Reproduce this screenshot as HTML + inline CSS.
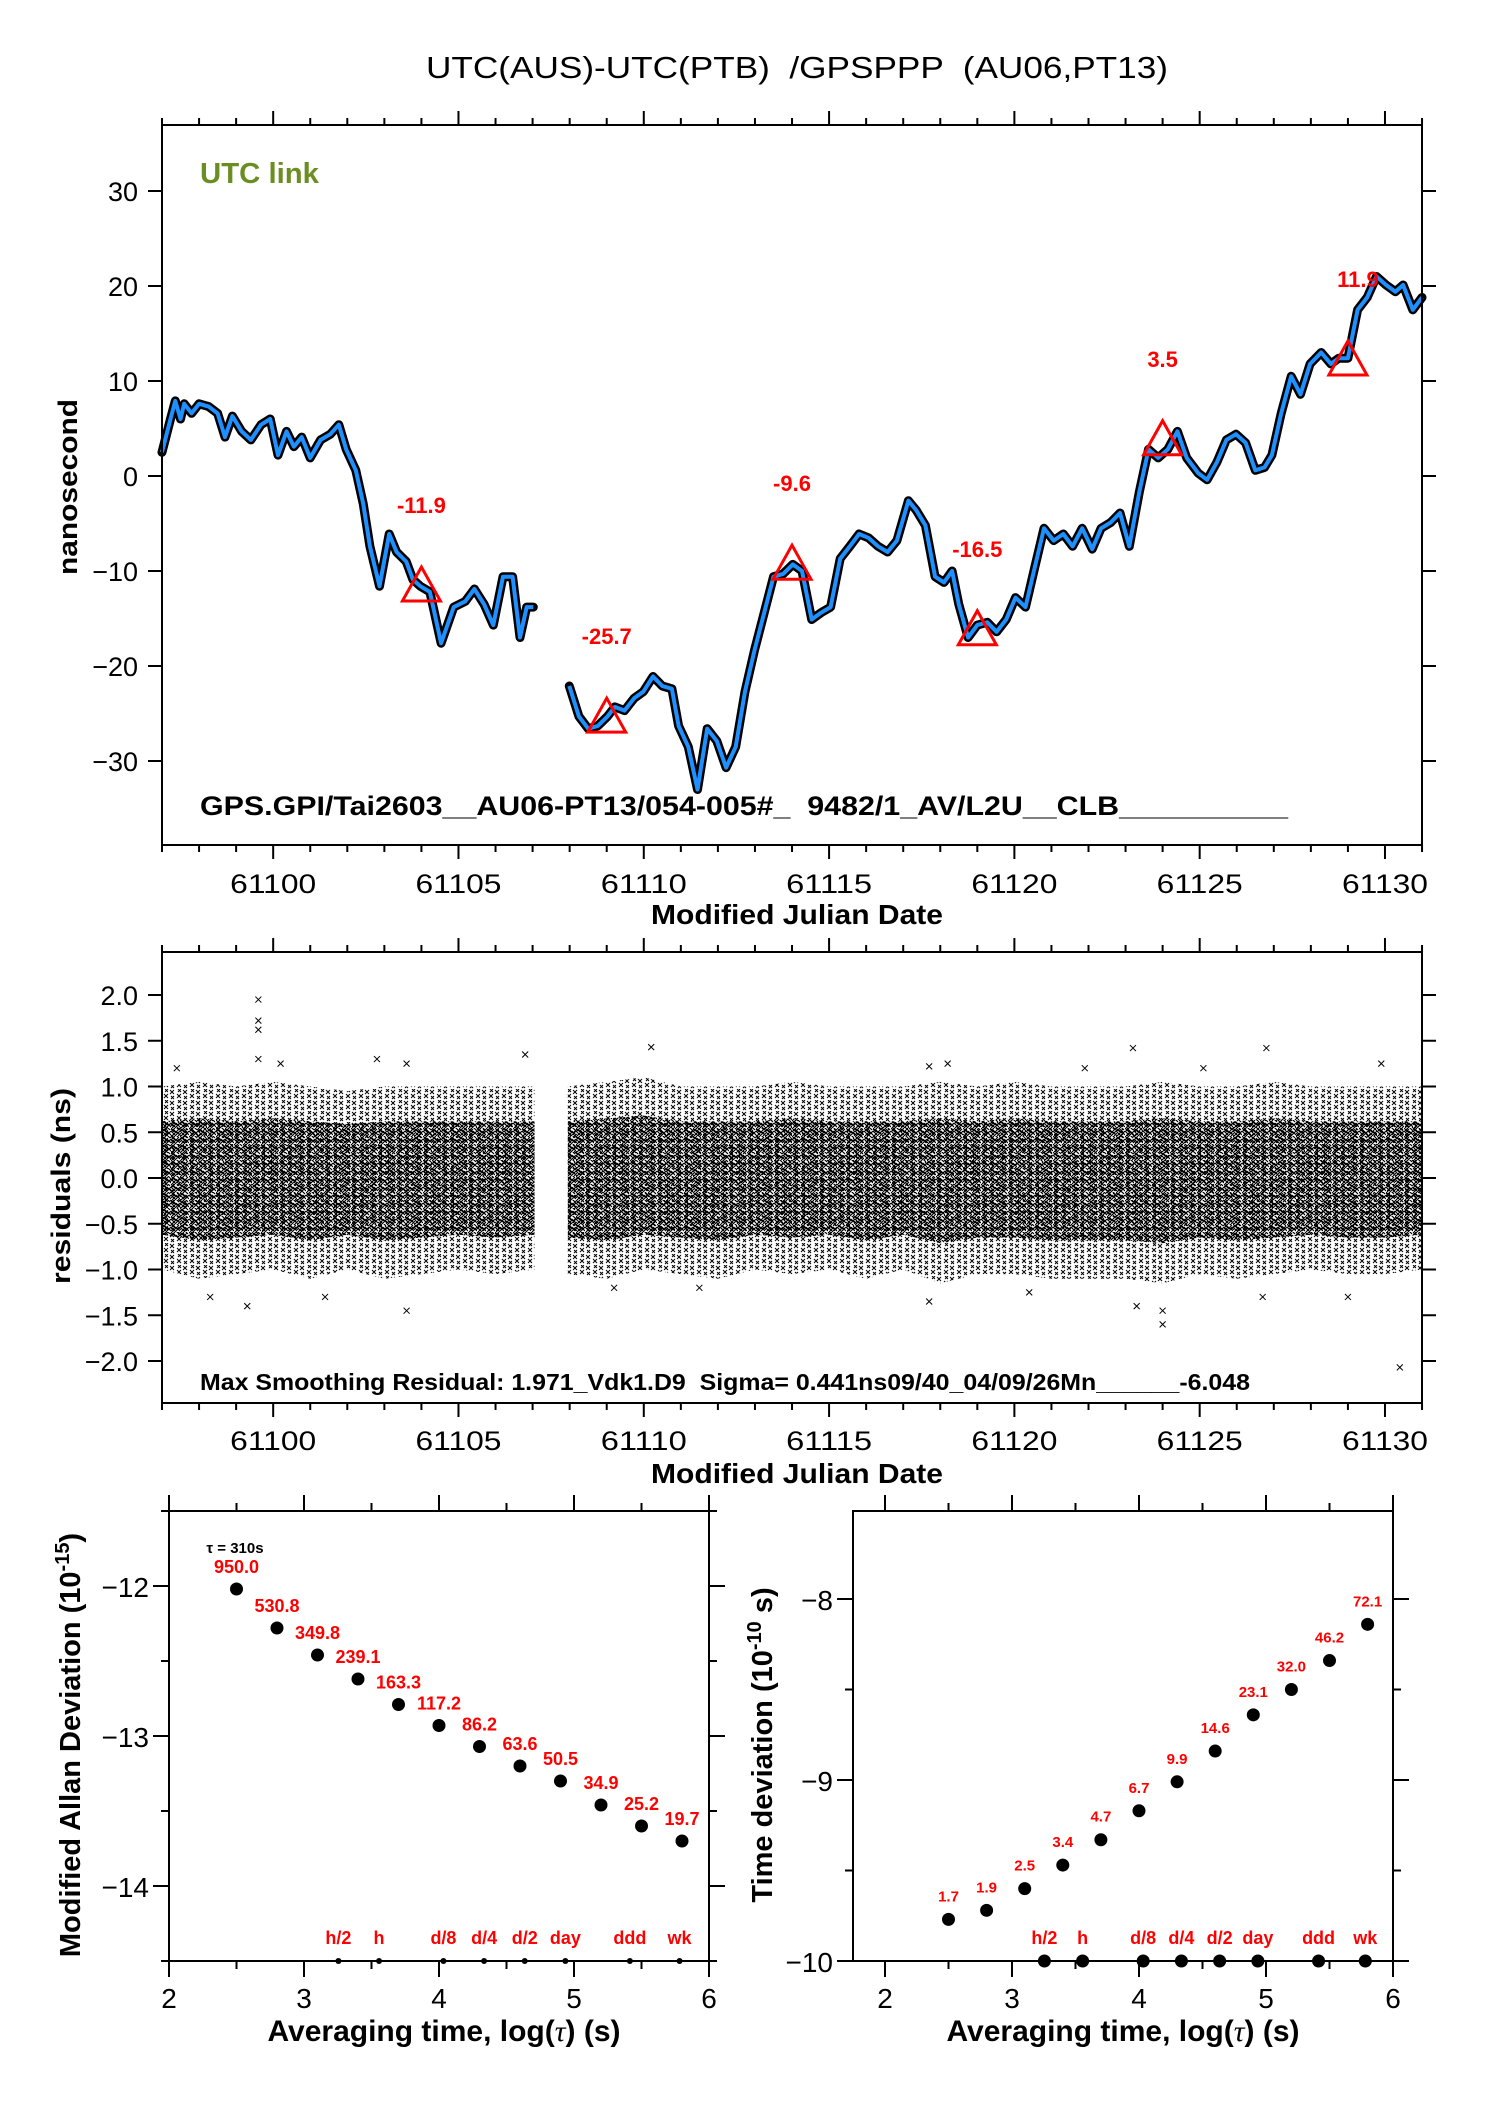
<!DOCTYPE html>
<html><head><meta charset="utf-8"><style>
body{margin:0;background:#fff;}
svg{display:block;font-family:"Liberation Sans",sans-serif;}
text{white-space:pre;}
</style></head><body>
<svg id="chart" width="1488" height="2105" viewBox="0 0 1488 2105" xmlns="http://www.w3.org/2000/svg">
<defs>
<pattern id="xdense" width="9" height="8" patternUnits="userSpaceOnUse">
<path d="M0 0l4 4M4 0l-4 4M5 3l4 4M9 3l-4 4M1 4l4 4M5 4l-4 4M5 -1l3 3M3 2l3 3" stroke="#000" stroke-width="1.2" fill="none"/>
</pattern>
<pattern id="xsparse" width="13" height="11" patternUnits="userSpaceOnUse">
<path d="M1 1l4 4M5 1l-4 4M8 5l4 4M12 5l-4 4M2 7l3 3M5 7l-3 3M9 0l3 3M12 0l-3 3" stroke="#000" stroke-width="1" fill="none"/>
</pattern>
</defs>
<g id="g"></g>
</svg>
<script>
// ===== top plot data: smoothed link curve =====
const curveDays = [61097.0,61097.23,61097.36,61097.5,61097.6,61097.8,61098.0,61098.26,61098.5,61098.7,61098.9,61099.15,61099.4,61099.67,61099.92,61100.13,61100.36,61100.56,61100.77,61101.0,61101.28,61101.54,61101.77,61101.97,61102.23,61102.43,61102.61,61102.87,61103.13,61103.33,61103.59,61103.77,61103.97,61104.23,61104.53,61104.87,61105.18,61105.43,61105.69,61105.94,61106.2,61106.46,61106.66,61106.84,61107.02];
const curveVals = [2.5,6,7.9,6,7.6,6.6,7.6,7.3,6.6,4.1,6.3,4.7,3.8,5.4,6,2.2,4.7,3.1,4.1,1.9,3.8,4.4,5.4,2.8,0.6,-2.9,-7.4,-11.6,-6.1,-8,-9,-10.9,-11.6,-12.2,-17.6,-13.8,-13.2,-11.9,-13.5,-15.7,-10.6,-10.6,-17,-13.8,-13.8];
const curveDays2 = [61107.99,61108.25,61108.5,61108.76,61109.02,61109.22,61109.48,61109.74,61109.99,61110.25,61110.5,61110.76,61110.94,61111.2,61111.45,61111.71,61111.97,61112.22,61112.48,61112.73,61112.99,61113.25,61113.5,61113.76,61114.02,61114.27,61114.53,61114.78,61115.04,61115.3,61115.56,61115.81,61116.06,61116.32,61116.58,61116.83,61117.14,61117.35,61117.6,61117.86,61118.1,61118.32,61118.5,61118.75,61119.0,61119.27,61119.52,61119.78,61120.03,61120.3,61120.55,61120.8,61121.06,61121.32,61121.57,61121.83,61122.1,61122.34,61122.6,61122.85,61123.1,61123.37,61123.62,61123.88,61124.14,61124.4,61124.65,61124.96,61125.2,61125.47,61125.72,61125.98,61126.24,61126.5,61126.75,61126.95,61127.2,61127.47,61127.72,61127.98,61128.28,61128.54,61128.75,61129.0,61129.26,61129.52,61129.77,61130.03,61130.28,61130.49,61130.75,61131.0];
const curveVals2 = [-22.1,-25.3,-26.6,-26.3,-25.3,-24.3,-24.7,-23.4,-22.7,-21.1,-22.1,-22.4,-26.3,-28.5,-33,-26.6,-27.9,-30.7,-28.5,-22.7,-18.3,-14.4,-10.6,-10.3,-9.3,-10,-15.1,-14.4,-13.8,-8.7,-7.4,-6.1,-6.5,-7.4,-8,-6.8,-2.6,-3.6,-5.2,-10.6,-11.2,-10,-13.5,-17,-15.7,-15.4,-16.4,-15.1,-12.8,-13.8,-9.6,-5.5,-6.8,-6.1,-7.4,-5.5,-7.7,-5.5,-4.9,-3.9,-7.4,-1.7,2.8,1.9,2.8,4.7,1.9,0.3,-0.4,1.5,3.8,4.4,3.5,0.6,0.9,2.2,6.6,10.5,8.6,11.8,13,11.8,12.4,12.4,17.5,18.8,21,20.1,19.4,20.1,17.5,18.8];
const markerDays = [61104,61109,61114,61119,61124,61129];
const markerVals = [-11.9,-25.7,-9.6,-16.5,3.5,11.9];
const markerLabels = ["-11.9","-25.7","-9.6","-16.5","3.5","11.9"];
const topYTicks = [30,20,10,0,-10,-20,-30];
const xTickLabels = [61100,61105,61110,61115,61120,61125,61130];

// ===== residual plot data (cloud envelope + outliers) =====
const residDays1 = [61097,61098,61099,61100,61101,61102,61103,61104,61105,61106,61107.05];
const residUpper1 = [1.0,1.05,1.0,1.05,1.0,0.95,1.0,1.0,1.0,1.0,1.0];
const residLower1 = [-1.0,-1.1,-1.05,-1.0,-1.1,-1.0,-1.1,-1.05,-1.0,-1.05,-1.0];
const residDays2 = [61107.95,61109,61110,61111,61112,61113,61114,61115,61116,61117,61118,61119,61120,61121,61122,61123,61124,61125,61126,61127,61128,61129,61130,61131];
const residUpper2 = [1.0,1.05,1.1,1.0,1.0,1.0,1.05,1.0,1.0,1.0,1.05,1.0,1.05,1.0,1.0,1.0,1.05,1.0,1.0,1.05,1.0,1.0,1.0,1.0];
const residLower2 = [-1.05,-1.1,-1.0,-1.05,-1.1,-1.0,-1.05,-1.0,-1.1,-1.0,-1.15,-1.05,-1.05,-1.1,-1.1,-1.1,-1.15,-1.05,-1.1,-1.05,-1.0,-1.05,-1.05,-1.0];
const outDays = [61099.6,61099.6,61099.6,61099.6,61097.4,61100.2,61102.8,61103.6,61106.8,61110.2,61117.7,61118.2,61121.9,61123.2,61125.1,61126.8,61129.9,61098.3,61099.3,61101.4,61103.6,61109.2,61111.5,61117.7,61120.4,61123.3,61124.0,61124.0,61126.7,61130.4,61129.0];
const outVals = [1.95,1.72,1.62,1.3,1.2,1.25,1.3,1.25,1.35,1.43,1.22,1.25,1.2,1.42,1.2,1.42,1.25,-1.3,-1.4,-1.3,-1.45,-1.2,-1.2,-1.35,-1.25,-1.4,-1.6,-1.45,-1.3,-2.07,-1.3];
const midYTicks = [2.0,1.5,1.0,0.5,0.0,-0.5,-1.0,-1.5,-2.0];

// ===== stability data =====
const logTau = [2.5,2.8,3.1,3.4,3.7,4.0,4.3,4.6,4.9,5.2,5.5,5.8];
const madev = [-12.02,-12.28,-12.46,-12.62,-12.79,-12.93,-13.07,-13.20,-13.30,-13.46,-13.60,-13.70];
const madevLabels = ["950.0","530.8","349.8","239.1","163.3","117.2","86.2","63.6","50.5","34.9","25.2","19.7"];
const tdev = [-9.77,-9.72,-9.60,-9.47,-9.33,-9.17,-9.01,-8.84,-8.64,-8.50,-8.34,-8.14];
const tdevLabels = ["1.7","1.9","2.5","3.4","4.7","6.7","9.9","14.6","23.1","32.0","46.2","72.1"];
const refTau = [3.255,3.556,4.033,4.334,4.635,4.936,5.414,5.782];
const refLabels = ["h/2","h","d/8","d/4","d/2","day","ddd","wk"];
const adevYTicks = [-12,-13,-14];
const tdevYTicks = [-8,-9,-10];
const logXTicks = [2,3,4,5,6];

const NS="http://www.w3.org/2000/svg";
const G=document.getElementById('g');
function el(tag,attrs,parent){const e=document.createElementNS(NS,tag);for(const k in attrs)e.setAttribute(k,attrs[k]);(parent||G).appendChild(e);return e;}
function txt(s,attrs,parent){const e=el('text',attrs,parent);e.textContent=s;return e;}

const dayX = d => 162 + (d-61097)*37.06;
const topY = v => 476 - v*9.5;
const midY = v => 1178 - v*91.5;
const adX = l => 169 + (l-2)*135;
const adY = v => 1586 + (-12 - v)*150;
const tdX = l => 885 + (l-2)*127;
const tdY = v => 1961 - (v+10)*181;

let t=txt('UTC(AUS)-UTC(PTB)  /GPSPPP  (AU06,PT13)',{x:797,y:78,'font-size':31,'text-anchor':'middle',textLength:742,lengthAdjust:'spacingAndGlyphs'});



function frame(x0,y0,x1,y1,name){const r=el('rect',{x:x0,y:y0,width:x1-x0,height:y1-y0,fill:'none',stroke:'#000','stroke-width':2});}

// ---------- TOP PLOT ----------
const topG = el('g',{});


function dayTicks(y0,y1,parent,labels,labY){
  for(let d=61097; d<=61131; d++){
    const x=dayX(d), maj=(d%5===0);
    const L=maj?14:7;
    el('line',{x1:x,y1:y0,x2:x,y2:y0-L,stroke:'#000','stroke-width':2},parent);
    el('line',{x1:x,y1:y1,x2:x,y2:y1+L,stroke:'#000','stroke-width':2},parent);
  }
  if(labels){xTickLabels.forEach(v=>{const e=txt(String(v),{x:dayX(v),y:labY,'font-size':27,'text-anchor':'middle',textLength:86,lengthAdjust:'spacingAndGlyphs'},parent);
    
    });}
}
dayTicks(125,845,topG,true,893);
topYTicks.forEach(v=>{const y=topY(v);el('line',{x1:148,y1:y,x2:162,y2:y,stroke:'#000','stroke-width':2},topG);el('line',{x1:1422,y1:y,x2:1436,y2:y,stroke:'#000','stroke-width':2},topG);
 const e=txt(v<0?'\u2212'+(-v):String(v),{x:138,y:y+10,'font-size':27,'text-anchor':'end'},topG);
 
 });
frame(162,125,1422,845,'top-plot-frame');
t=txt('nanosecond',{x:0,y:0,'font-size':27,'font-weight':'bold','text-anchor':'middle',transform:'translate(77,487) rotate(-90)',textLength:176,lengthAdjust:'spacingAndGlyphs'},topG);


t=txt('Modified Julian Date',{x:797,y:924,'font-size':28,'font-weight':'bold','text-anchor':'middle',textLength:292,lengthAdjust:'spacingAndGlyphs'},topG);


t=txt('UTC link',{x:200,y:183,'font-size':29,'font-weight':'bold',fill:'#6b8e23',textLength:119,lengthAdjust:'spacingAndGlyphs'},topG);


t=txt('GPS.GPI/Tai2603__AU06-PT13/054-005#_  9482/1_AV/L2U__CLB__________',{x:200,y:815,'font-size':27,'font-weight':'bold',textLength:1088,lengthAdjust:'spacingAndGlyphs'},topG);


function pts(ds,vs){return ds.map((d,i)=>dayX(d).toFixed(1)+','+topY(vs[i]).toFixed(1)).join(' ');}
[[curveDays,curveVals],[curveDays2,curveVals2]].forEach(([ds,vs])=>{
  const b=el('polyline',{points:pts(ds,vs),fill:'none',stroke:'#000','stroke-width':9,'stroke-linejoin':'round','stroke-linecap':'round'},topG);
  
  
  const l=el('polyline',{points:pts(ds,vs),fill:'none',stroke:'#1e90ff','stroke-width':4,'stroke-linejoin':'round'},topG);
  
  
});
markerDays.forEach((d,i)=>{const x=dayX(d),y=topY(markerVals[i]);
  const p=el('polygon',{points:`${x-19},${y+12} ${x+19},${y+12} ${x},${y-22}`,fill:'none',stroke:'#ff0000','stroke-width':3},topG);
  
  
  const e=txt(markerLabels[i],{x:i===5?x+10:x,y:y-76,'font-size':22,'font-weight':'bold',fill:'#ff0000','text-anchor':'middle'},topG);
  
  
});

// ---------- MIDDLE PLOT ----------
const midG=el('g',{});


dayTicks(952,1403,midG,false);
xTickLabels.forEach(v=>{const e=txt(String(v),{x:dayX(v),y:1450,'font-size':27,'text-anchor':'middle',textLength:86,lengthAdjust:'spacingAndGlyphs'},midG);
 
 });
midYTicks.forEach(v=>{const y=midY(v);el('line',{x1:148,y1:y,x2:162,y2:y,stroke:'#000','stroke-width':2},midG);el('line',{x1:1422,y1:y,x2:1436,y2:y,stroke:'#000','stroke-width':2},midG);
 const e=txt((v<0?'\u2212':'')+Math.abs(v).toFixed(1),{x:138,y:y+10,'font-size':27,'text-anchor':'end'},midG);
 
 });
function band(ds,up,lo,scale,fill,name){
  const a=ds.map((d,i)=>dayX(d).toFixed(1)+','+midY(up[i]*scale).toFixed(1));
  const b=ds.map((d,i)=>dayX(d).toFixed(1)+','+midY(lo[i]*scale).toFixed(1)).reverse();
  const p=el('polygon',{points:a.concat(b).join(' '),fill:fill},midG);
  
  
}
band(residDays1,residUpper1,residLower1,1,'url(#xsparse)','residual-cloud-outer');
band(residDays2,residUpper2,residLower2,1,'url(#xsparse)','residual-cloud-outer');
band(residDays1,residUpper1,residLower1,0.62,'url(#xdense)','residual-cloud-core');
band(residDays2,residUpper2,residLower2,0.62,'url(#xdense)','residual-cloud-core');
outDays.forEach((d,i)=>{const x=dayX(d),y=midY(outVals[i]);
 const p=el('path',{d:`M${x-3} ${y-3}L${x+3} ${y+3}M${x+3} ${y-3}L${x-3} ${y+3}`,stroke:'#000','stroke-width':1},midG);
 
 });
frame(162,952,1422,1403,'residual-plot-frame');
t=txt('residuals (ns)',{x:0,y:0,'font-size':27,'font-weight':'bold','text-anchor':'middle',transform:'translate(70,1186) rotate(-90)',textLength:196,lengthAdjust:'spacingAndGlyphs'},midG);


t=txt('Max Smoothing Residual: 1.971_Vdk1.D9  Sigma= 0.441ns09/40_04/09/26Mn______-6.048',{x:200,y:1390,'font-size':23,'font-weight':'bold',textLength:1050,lengthAdjust:'spacingAndGlyphs'},midG);


t=txt('Modified Julian Date',{x:797,y:1483,'font-size':28,'font-weight':'bold','text-anchor':'middle',textLength:292,lengthAdjust:'spacingAndGlyphs'},midG);



// ---------- BOTTOM PLOTS ----------
function stabPanel(name,X,Y,x0,x1,y0,y1,yT,yMin,yMax,vals,labels,labFs,dotR,refR,yLabelText,yLabCx){
  const g=el('g',{});
  
  
  for(let k=2;k<=12;k++){const l=k/2;const x=X(l);if(x<x0-1||x>x1+1)continue;const L=(k%2===0)?16:8;
    el('line',{x1:x,y1:y0,x2:x,y2:y0-L,stroke:'#000','stroke-width':2},g);el('line',{x1:x,y1:y1,x2:x,y2:y1+L,stroke:'#000','stroke-width':2},g);}
  logXTicks.forEach(v=>{const e=txt(String(v),{x:X(v),y:2008,'font-size':28,'text-anchor':'middle'},g);
    
    });
  for(let v=yMin;v<=yMax+1e-9;v+=0.5){const y=Y(v);if(y<y0-1||y>y1+1)continue;const maj=Math.abs(v-Math.round(v))<1e-6;const L=maj?16:8;
    el('line',{x1:x0-L,y1:y,x2:x0,y2:y,stroke:'#000','stroke-width':2},g);el('line',{x1:x1,y1:y,x2:x1+L,y2:y,stroke:'#000','stroke-width':2},g);}
  yT.forEach(v=>{const e=txt('\u2212'+(-v),{x:x0-20,y:Y(v)+11,'font-size':28,'text-anchor':'end'},g);
    
    });
  const r=el('rect',{x:x0,y:y0,width:x1-x0,height:y1-y0,fill:'none',stroke:'#000','stroke-width':2},g);
  
  
  logTau.forEach((l,i)=>{const c=el('circle',{cx:X(l),cy:Y(vals[i]),r:dotR,fill:'#000'},g);
    
    
    const e=txt(labels[i],{x:X(l),y:Y(vals[i])-(labFs>16?16:18),'font-size':labFs,'font-weight':'bold',fill:'#ff0000','text-anchor':'middle'},g);
    
    });
  refTau.forEach((l,i)=>{const c=el('circle',{cx:X(l),cy:y1,r:refR,fill:'#000'},g);
    
    
    const e=txt(refLabels[i],{x:X(l),y:y1-17,'font-size':18,'font-weight':'bold',fill:'#ff0000','text-anchor':'middle'},g);
    
    });
  const xc=(x0+x1)/2+(name==='tdev-panel'?0:5);
  const e=txt('',{x:xc,y:2041,'font-size':30,'font-weight':'bold','text-anchor':'middle'},g);
  e.appendChild(document.createTextNode('Averaging time, log('));
  const ts=el('tspan',{'font-family':'Liberation Serif, serif','font-style':'italic','font-weight':'normal'},e);ts.textContent='\u03C4';
  e.appendChild(document.createTextNode(') (s)'));
  
  
  const yl=txt('',{x:0,y:0,'font-size':29,'font-weight':'bold','text-anchor':'middle',transform:`translate(${yLabCx},1745) rotate(-90)`},g);
  yl.appendChild(document.createTextNode(yLabelText[0]));
  const sp=el('tspan',{dy:-11,'font-size':20},yl);sp.textContent=yLabelText[1];
  const sp2=el('tspan',{dy:11},yl);sp2.textContent=yLabelText[2];
  
  
  return g;
}
const gL=stabPanel('madev-panel',adX,adY,169,709,1511,1961,adevYTicks,-14.5,-11.5,madev,madevLabels,18,6.5,3,['Modified Allan Deviation (10','-15',')'],80);
t=txt('\u03C4 = 310s',{x:235,y:1553,'font-size':15,'font-weight':'bold','text-anchor':'middle'},gL);


stabPanel('tdev-panel',tdX,tdY,853,1393,1511,1961,tdevYTicks,-10,-7.5,tdev,tdevLabels,15,6.5,6.5,['Time deviation (10','-10',' s)'],772);
</script>
</body></html>
